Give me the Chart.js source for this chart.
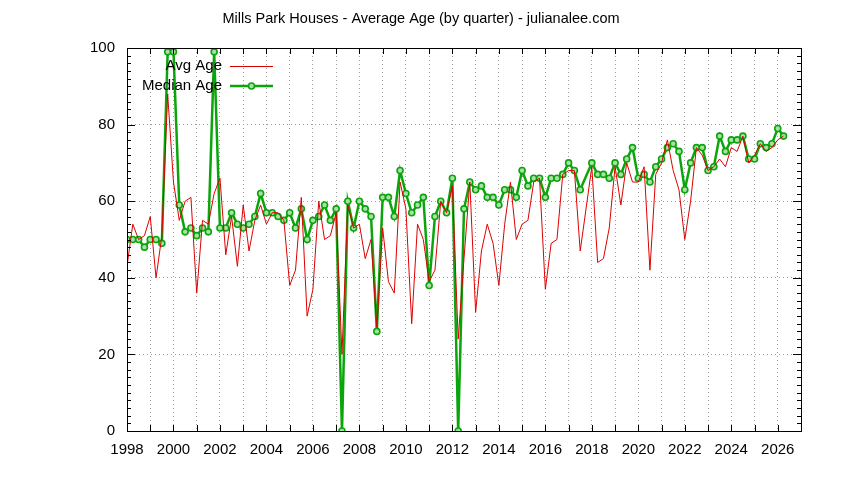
<!DOCTYPE html>
<html lang="en">
<head>
<meta charset="UTF-8">
<title>Mills Park Houses - Average Age</title>
<script src="https://cdn.jsdelivr.net/npm/chart.js"></script>
<style>
  html, body { margin: 0; padding: 0; background: #fff; }
  #wrap { width: 844px; height: 480px; }
</style>
</head>
<body>
<div id="wrap"><canvas id="graficoIdade"></canvas></div>
<script>
// one value per quarter, first one is 1998 Q1 (null = quarter missing)
var startYear = 1998;

var avgAge = [
    43, 54, 50, 51, 56, 40, 51, 88, 65, 55, 60, 61, 36, 55, 54, 62,
    66, 46, 56, 43, 59, 47, 55, 59, 54, 57, 57, 55, 38, 42, 61, 30,
    37, 60, 50, 51, 57, 20, 59, 53, 54, 45, 50, 27, 53, 39, 36, 65,
    58, 28, 54, 50, 39, 42, 60, 57, 64, 24, 45, 65, 31, 47, 54, 49,
    38, 54, 65, 50, 54, 55, 65, 66, 37, 49, 50, 67, 68, 68, 47, null,
    69, 44, 45, 53, 69, 59, 70, 65, 65, 69, 42, 67, 70, 76, 68, 63,
    50, 60, 74, 72, 68, 69, 71, 69, 74, 73, 77, 70, 72, 75, 73, 74,
    76, 77
];

var medianAge = [
    50, 50, 50, 48, 50, 50, 49, 99, 99, 59, 52, 53, 51, 53, 52, 99,
    53, 53, 57, 54, 53, 54, 56, 62, 57, 57, 56, 55, 57, 53, 58, 50,
    55, 56, 59, 55, 58, 0, 60, 53, 60, 58, 56, 26, 61, 61, 56, 68,
    62, 57, 59, 61, 38, 56, 60, 57, 66, 0, 58, 65, 63, 64, 61, 61,
    59, 63, 63, 61, 68, 64, 66, 66, 61, 66, 66, 67, 70, 68, 63, null,
    70, 67, 67, 66, 70, 67, 71, 74, 66, 67, 65, 69, 71, 74, 75, 73,
    63, 70, 74, 74, 68, 69, 77, 73, 76, 76, 77, 71, 71, 75, 74, 75,
    79, 77
];

var xMin = 1998, xMax = 2027;
var yMin = 0, yMax = 100;

var fonte = '"Liberation Sans", Arial, sans-serif';
var verde = '#0aa50a';
var verdeClaro = '#a8e0a8';
var vermelho = '#dd0000';

function paraPontos(valores) {
    var pontos = [];
    for (var i = 0; i < valores.length; i++) {
        if (valores[i] === null) continue;
        pontos.push({ x: startYear + i / 4, y: valores[i] });
    }
    return pontos;
}

// frame, inward tick marks, title and legend like the gnuplot original
var moldura = {
    id: 'moldura',
    afterDatasetsDraw: function (chart) {
        var ctx = chart.ctx;
        var a = chart.chartArea;
        var sx = chart.scales.x, sy = chart.scales.y;
        ctx.save();
        ctx.strokeStyle = '#000';
        ctx.lineWidth = 1;
        ctx.strokeRect(Math.round(a.left) + 0.5, Math.round(a.top) + 0.5,
            Math.round(a.right - a.left), Math.round(a.bottom - a.top));

        ctx.beginPath();
        for (var ano = xMin; ano <= xMax; ano++) {
            var px = Math.round(sx.getPixelForValue(ano)) + 0.5;
            ctx.moveTo(px, a.bottom); ctx.lineTo(px, a.bottom - 6);
            ctx.moveTo(px, a.top); ctx.lineTo(px, a.top + 6);
        }
        for (var v = yMin; v <= yMax; v += 2) {
            var py = Math.round(sy.getPixelForValue(v)) + 0.5;
            var len = (v % 20 === 0) ? 8 : 4;
            ctx.moveTo(a.left, py); ctx.lineTo(a.left + len, py);
            ctx.moveTo(a.right, py); ctx.lineTo(a.right - len, py);
        }
        ctx.stroke();

        // title
        ctx.fillStyle = '#000';
        ctx.font = '14.5px ' + fonte;
        ctx.textAlign = 'center';
        ctx.textBaseline = 'middle';
        ctx.fillText('Mills Park Houses - Average Age (by quarter) - julianalee.com', 421, 19);

        // legend
        ctx.font = '15px ' + fonte;
        ctx.textAlign = 'right';
        ctx.fillText('Avg Age', 222, 66);
        ctx.fillText('Median Age', 222, 86);

        ctx.strokeStyle = vermelho;
        ctx.lineWidth = 1;
        ctx.beginPath();
        ctx.moveTo(230, 66.5); ctx.lineTo(273, 66.5);
        ctx.stroke();

        ctx.strokeStyle = verde;
        ctx.lineWidth = 2.5;
        ctx.beginPath();
        ctx.moveTo(230, 86); ctx.lineTo(273, 86);
        ctx.stroke();
        ctx.lineWidth = 1.6;
        ctx.fillStyle = verdeClaro;
        ctx.beginPath();
        ctx.arc(251.5, 86, 3, 0, Math.PI * 2);
        ctx.fill();
        ctx.stroke();
        ctx.restore();
    }
};

var dados = {
    datasets: [{
        label: 'Avg Age',
        data: paraPontos(avgAge),
        borderColor: vermelho,
        backgroundColor: vermelho,
        borderWidth: 1,
        pointRadius: 0,
        tension: 0,
        spanGaps: true
    },
    {
        label: 'Median Age',
        data: paraPontos(medianAge),
        borderColor: verde,
        backgroundColor: verdeClaro,
        borderWidth: 2.5,
        pointRadius: 3,
        pointBorderWidth: 1.6,
        pointHoverRadius: 3,
        tension: 0,
        spanGaps: true
    }]
};

var config = {
    type: 'line',
    data: dados,
    options: {
        responsive: true,
        maintainAspectRatio: false,
        animation: false,
        devicePixelRatio: 1,
        layout: {
            padding: { top: 48, right: 43, bottom: 0, left: 0 }
        },
        plugins: {
            legend: { display: false },
            title: { display: false },
            tooltip: { enabled: false }
        },
        scales: {
            x: {
                type: 'linear',
                min: xMin,
                max: xMax,
                afterFit: function (scale) { scale.height = 49; },
                ticks: {
                    stepSize: 1,
                    autoSkip: false,
                    maxRotation: 0,
                    padding: 10,
                    color: '#000',
                    font: { family: fonte, size: 15 },
                    callback: function (v) { return v % 2 === 0 && v < xMax ? String(v) : ''; }
                },
                grid: { color: '#a0a0a0', lineWidth: 1, drawTicks: false },
                border: { display: false, dash: [1, 3] }
            },
            y: {
                min: yMin,
                max: yMax,
                afterFit: function (scale) { scale.width = 127; },
                ticks: {
                    stepSize: 20,
                    padding: 12,
                    color: '#000',
                    font: { family: fonte, size: 15 }
                },
                grid: { color: '#a0a0a0', lineWidth: 1, drawTicks: false },
                border: { display: false, dash: [1, 3] }
            }
        }
    },
    plugins: [moldura]
};

var grafico = new Chart(document.getElementById('graficoIdade'), config);
</script>
</body>
</html>
